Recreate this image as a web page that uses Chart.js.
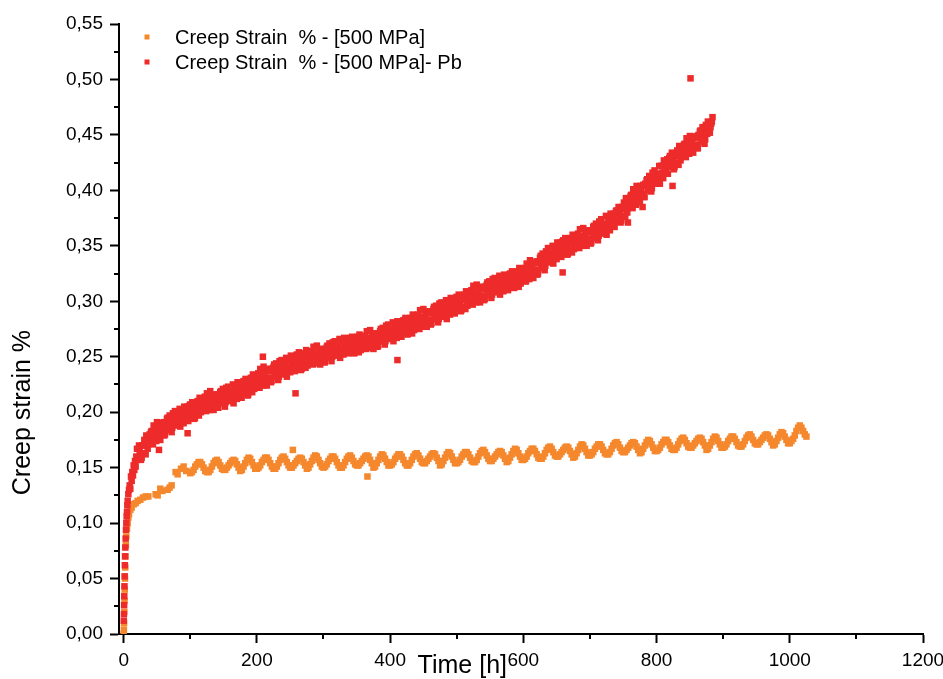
<!DOCTYPE html>
<html>
<head>
<meta charset="utf-8">
<script src="https://cdn.jsdelivr.net/npm/chart.js@4/dist/chart.umd.min.js"></script>
<style>
html,body{margin:0;padding:0;background:#fff;}
#wrap{width:943px;height:679px;position:relative;}
</style>
</head>
<body>
<div id="wrap"><canvas id="c" width="943" height="679"></canvas></div>
<script>
// ---------- labels ----------
const seriesLabels = ['Creep Strain  % - [500 MPa]', 'Creep Strain  % - [500 MPa]- Pb'];
const xTitle = 'Time [h]';
const yTitle = 'Creep strain %';

// ---------- ticks ----------
const xTicks = [0, 200, 400, 600, 800, 1000, 1200];
const xMinorTicks = [100, 300, 500, 700, 900, 1100];
const yTicks = [0, 0.05, 0.10, 0.15, 0.20, 0.25, 0.30, 0.35, 0.40, 0.45, 0.50, 0.55];
const yMinorTicks = [0.025, 0.075, 0.125, 0.175, 0.225, 0.275, 0.325, 0.375, 0.425, 0.475, 0.525];

// ---------- series 1 : 500 MPa (orange) ----------
const orangeEarlyTime = [0,0.3,0.6,1,1.3,1.6,2,2.4,2.8,3.3,4,5,6,7,8,10,12,15,18,21,25,29,33,37,48,51,55,58,66,69,72,78,81,86,90,94];
const orangeEarlyStrain = [0.000,0.004,0.010,0.020,0.030,0.040,0.050,0.060,0.070,0.080,0.088,0.095,0.100,0.105,0.108,0.112,0.114,0.117,0.118,0.120,0.121,0.123,0.124,0.124,0.126,0.125,0.131,0.129,0.130,0.132,0.134,0.146,0.144,0.149,0.151,0.147];
const orangeStart = 100, orangeStep = 2.5; // logging interval (h)
const orangeStrain = [
0.145,0.146,0.148,0.151,0.153,0.155,0.155,0.153,0.150,0.147,
0.146,0.146,0.148,0.151,0.154,0.156,0.157,0.155,0.152,0.149,
0.148,0.148,0.150,0.152,0.154,0.156,0.157,0.156,0.153,0.150,
0.147,0.148,0.151,0.154,0.157,0.159,0.158,0.155,0.152,0.149,
0.149,0.150,0.152,0.155,0.157,0.159,0.159,0.157,0.154,0.151,
0.149,0.149,0.151,0.154,0.157,0.159,0.160,0.158,0.155,0.152,
0.150,0.150,0.152,0.154,0.156,0.158,0.159,0.158,0.155,0.152,
0.149,0.150,0.153,0.156,0.159,0.161,0.160,0.157,0.154,0.151,
0.150,0.151,0.153,0.156,0.158,0.160,0.160,0.158,0.155,0.152,
0.150,0.150,0.152,0.155,0.158,0.160,0.161,0.159,0.156,0.153,
0.152,0.152,0.154,0.156,0.158,0.160,0.161,0.160,0.157,0.154,
0.150,0.151,0.154,0.157,0.160,0.162,0.161,0.158,0.155,0.152,
0.152,0.153,0.155,0.158,0.160,0.162,0.162,0.160,0.157,0.154,
0.152,0.152,0.154,0.157,0.160,0.162,0.163,0.161,0.158,0.155,
0.154,0.154,0.156,0.158,0.160,0.162,0.163,0.162,0.159,0.156,
0.152,0.153,0.156,0.159,0.162,0.164,0.163,0.160,0.157,0.154,
0.154,0.155,0.157,0.160,0.162,0.164,0.164,0.162,0.159,0.156,
0.155,0.155,0.157,0.160,0.163,0.165,0.166,0.164,0.161,0.158,
0.156,0.156,0.158,0.160,0.162,0.164,0.165,0.164,0.161,0.158,
0.155,0.156,0.159,0.162,0.165,0.167,0.166,0.163,0.160,0.157,
0.157,0.158,0.160,0.163,0.165,0.167,0.167,0.165,0.162,0.159,
0.158,0.158,0.160,0.163,0.166,0.168,0.169,0.167,0.164,0.161,
0.160,0.160,0.162,0.164,0.166,0.168,0.169,0.168,0.165,0.162,
0.159,0.160,0.163,0.166,0.169,0.171,0.170,0.167,0.164,0.161,
0.161,0.162,0.164,0.167,0.169,0.171,0.171,0.169,0.166,0.163,
0.162,0.162,0.164,0.167,0.170,0.172,0.173,0.171,0.168,0.165,
0.164,0.164,0.166,0.168,0.170,0.172,0.173,0.172,0.169,0.166,
0.163,0.164,0.167,0.170,0.173,0.175,0.174,0.171,0.168,0.165,
0.165,0.166,0.168,0.171,0.173,0.175,0.175,0.173,0.170,0.167,
0.166,0.166,0.168,0.171,0.174,0.176,0.177,0.175,0.172,0.169,
0.168,0.168,0.170,0.172,0.174,0.176,0.177,0.176,0.173,0.170,
0.166,0.167,0.170,0.173,0.176,0.178,0.177,0.174,0.171,0.168,
0.168,0.169,0.171,0.174,0.176,0.178,0.178,0.176,0.173,0.170,
0.169,0.169,0.171,0.174,0.177,0.179,0.180,0.178,0.175,0.172,
0.171,0.171,0.173,0.175,0.177,0.179,0.180,0.179,0.176,0.173,
0.170,0.171,0.174,0.177,0.180,0.182,0.181,0.178,0.175,0.172,
0.172,0.174,0.176,0.179,0.183,0.186,0.188,0.186,0.183,0.180,0.178
];
const orangeOutlierTime = [254, 366];
const orangeOutlierStrain = [0.166, 0.142];

// ---------- series 2 : 500 MPa - Pb (red) ----------
const redEarlyTime = [0.2,0.4,0.7,0.9,1.2,1.5,1.8,2.1,2.5,3,3.5,4,4.5,5,5.5,6,7,8,9,10,11,12,13,14,15,16,17,18,19];
const redEarlyStrain = [0.012,0.018,0.026,0.034,0.043,0.052,0.062,0.070,0.078,0.086,0.094,0.100,0.106,0.110,0.116,0.120,0.126,0.130,0.134,0.131,0.142,0.138,0.146,0.143,0.152,0.148,0.156,0.151,0.160];
const redStep = 2;            // logging interval (h)
const redEvenStart = 20;      // readings at 20, 22, 24 ... h
const redEvenStrain = [
0.167,0.159,0.165,0.157,0.170,0.163,0.170,0.179,0.167,0.175,
0.174,0.183,0.171,0.182,0.176,0.191,0.182,0.178,0.190,0.183,
0.191,0.180,0.189,0.195,0.185,0.193,0.182,0.199,0.191,0.196,
0.188,0.197,0.203,0.193,0.201,0.190,0.199,0.194,0.205,0.198,
0.207,0.198,0.203,0.194,0.207,0.199,0.204,0.213,0.200,0.207,
0.205,0.214,0.201,0.212,0.205,0.219,0.209,0.205,0.216,0.209,
0.216,0.204,0.214,0.219,0.209,0.216,0.205,0.222,0.213,0.219,
0.210,0.219,0.225,0.215,0.223,0.212,0.220,0.216,0.226,0.220,
0.228,0.219,0.224,0.215,0.228,0.220,0.225,0.234,0.221,0.228,
0.226,0.235,0.222,0.233,0.227,0.241,0.231,0.227,0.239,0.231,
0.239,0.228,0.237,0.243,0.232,0.240,0.229,0.246,0.237,0.243,
0.234,0.243,0.249,0.239,0.247,0.236,0.244,0.240,0.250,0.244,
0.252,0.242,0.248,0.238,0.251,0.242,0.247,0.256,0.242,0.250,
0.247,0.255,0.243,0.253,0.247,0.260,0.250,0.246,0.257,0.250,
0.257,0.245,0.255,0.260,0.250,0.257,0.246,0.263,0.254,0.260,
0.251,0.259,0.266,0.255,0.263,0.252,0.260,0.255,0.265,0.259,
0.267,0.257,0.263,0.253,0.265,0.257,0.262,0.270,0.256,0.264,
0.261,0.269,0.257,0.267,0.261,0.274,0.264,0.260,0.271,0.264,
0.271,0.260,0.269,0.275,0.264,0.272,0.261,0.278,0.269,0.275,
0.266,0.274,0.281,0.270,0.279,0.267,0.275,0.271,0.281,0.275,
0.283,0.274,0.279,0.270,0.282,0.274,0.279,0.288,0.274,0.281,
0.279,0.288,0.275,0.286,0.279,0.293,0.284,0.279,0.291,0.283,
0.291,0.280,0.289,0.295,0.284,0.292,0.281,0.298,0.289,0.295,
0.286,0.295,0.301,0.291,0.299,0.288,0.296,0.292,0.302,0.296,
0.304,0.295,0.300,0.291,0.303,0.295,0.301,0.309,0.296,0.303,
0.301,0.310,0.297,0.308,0.301,0.315,0.306,0.301,0.313,0.305,
0.313,0.302,0.311,0.317,0.306,0.314,0.303,0.320,0.311,0.317,
0.308,0.316,0.323,0.312,0.321,0.309,0.317,0.313,0.323,0.317,
0.325,0.316,0.321,0.312,0.324,0.316,0.321,0.330,0.316,0.324,
0.321,0.330,0.318,0.329,0.323,0.337,0.327,0.323,0.335,0.328,
0.336,0.325,0.335,0.341,0.331,0.339,0.328,0.345,0.337,0.343,
0.335,0.344,0.350,0.340,0.349,0.338,0.346,0.342,0.353,0.346,
0.355,0.346,0.351,0.342,0.354,0.346,0.352,0.360,0.347,0.354,
0.352,0.361,0.348,0.359,0.352,0.366,0.357,0.352,0.364,0.356,
0.364,0.353,0.362,0.368,0.358,0.366,0.355,0.372,0.364,0.369,
0.361,0.370,0.377,0.366,0.375,0.364,0.373,0.369,0.379,0.373,
0.382,0.373,0.380,0.371,0.385,0.377,0.383,0.393,0.380,0.389,
0.387,0.396,0.384,0.396,0.390,0.404,0.395,0.391,0.404,0.397,
0.405,0.394,0.404,0.410,0.400,0.409,0.399,0.416,0.408,0.414,
0.406,0.415,0.422,0.413,0.422,0.411,0.420,0.416,0.428,0.422,
0.431,0.422,0.428,0.419,0.432,0.425,0.431,0.440,0.427,0.435,
0.433,0.442,0.430,0.441,0.435,0.449,0.440,0.436,0.448,0.441,
0.449,0.438,0.448,0.454,0.444,0.452,0.442,0.459,0.451,0.457,
0.452,0.460,0.466
];
const redOddStart = 21;       // readings at 21, 23, 25 ... h
const redOddStrain = [
0.157,0.170,0.163,0.159,0.170,0.175,0.162,0.174,0.171,0.180,
0.182,0.172,0.188,0.178,0.174,0.183,0.187,0.175,0.188,0.182,
0.179,0.191,0.194,0.184,0.197,0.188,0.186,0.196,0.201,0.192,
0.196,0.190,0.187,0.202,0.196,0.205,0.194,0.202,0.192,0.206,
0.196,0.209,0.201,0.195,0.206,0.210,0.197,0.207,0.203,0.212,
0.212,0.202,0.217,0.207,0.202,0.211,0.214,0.202,0.214,0.208,
0.204,0.216,0.218,0.208,0.221,0.211,0.209,0.219,0.223,0.214,
0.218,0.212,0.208,0.224,0.217,0.227,0.215,0.223,0.213,0.227,
0.217,0.230,0.222,0.216,0.227,0.231,0.218,0.228,0.224,0.233,
0.233,0.223,0.239,0.228,0.224,0.233,0.237,0.224,0.237,0.231,
0.227,0.239,0.241,0.232,0.244,0.235,0.232,0.243,0.247,0.238,
0.242,0.236,0.232,0.248,0.241,0.251,0.239,0.247,0.237,0.251,
0.241,0.254,0.245,0.239,0.250,0.253,0.240,0.250,0.245,0.254,
0.254,0.244,0.259,0.248,0.244,0.252,0.256,0.243,0.255,0.249,
0.245,0.257,0.259,0.249,0.262,0.252,0.250,0.260,0.264,0.255,
0.259,0.252,0.249,0.264,0.257,0.267,0.255,0.262,0.253,0.266,
0.256,0.268,0.260,0.254,0.264,0.268,0.254,0.264,0.260,0.268,
0.268,0.258,0.273,0.262,0.258,0.266,0.270,0.257,0.269,0.263,
0.259,0.271,0.273,0.264,0.276,0.267,0.264,0.275,0.279,0.270,
0.274,0.268,0.264,0.279,0.273,0.282,0.271,0.278,0.268,0.282,
0.272,0.285,0.276,0.271,0.281,0.285,0.271,0.282,0.277,0.286,
0.286,0.276,0.292,0.281,0.277,0.285,0.289,0.277,0.289,0.283,
0.279,0.291,0.293,0.284,0.296,0.287,0.284,0.295,0.299,0.290,
0.294,0.288,0.284,0.300,0.293,0.303,0.291,0.299,0.289,0.303,
0.293,0.306,0.298,0.292,0.303,0.306,0.293,0.304,0.299,0.308,
0.308,0.298,0.314,0.303,0.299,0.307,0.311,0.299,0.311,0.305,
0.301,0.313,0.315,0.306,0.318,0.309,0.306,0.317,0.321,0.312,
0.316,0.310,0.306,0.321,0.315,0.324,0.313,0.320,0.310,0.324,
0.314,0.327,0.318,0.313,0.323,0.327,0.313,0.324,0.319,0.328,
0.328,0.318,0.334,0.324,0.320,0.329,0.333,0.321,0.334,0.328,
0.324,0.336,0.339,0.330,0.343,0.334,0.332,0.343,0.348,0.339,
0.343,0.337,0.334,0.349,0.343,0.353,0.342,0.349,0.340,0.354,
0.344,0.357,0.349,0.343,0.354,0.357,0.344,0.355,0.350,0.359,
0.359,0.349,0.365,0.354,0.350,0.358,0.362,0.350,0.362,0.356,
0.352,0.364,0.367,0.357,0.370,0.361,0.359,0.369,0.374,0.365,
0.369,0.363,0.360,0.376,0.370,0.379,0.368,0.376,0.367,0.381,
0.372,0.385,0.378,0.373,0.384,0.389,0.376,0.388,0.384,0.393,
0.395,0.385,0.401,0.391,0.387,0.397,0.401,0.389,0.402,0.396,
0.394,0.406,0.409,0.400,0.413,0.404,0.402,0.413,0.418,0.409,
0.415,0.409,0.406,0.422,0.416,0.427,0.416,0.424,0.415,0.429,
0.421,0.434,0.426,0.421,0.432,0.436,0.423,0.434,0.430,0.439,
0.441,0.431,0.447,0.437,0.433,0.442,0.446,0.434,0.447,0.441,
0.438,0.450,0.453,0.444,0.457,0.448,0.446,0.457,0.462,0.453,
0.457,0.462
];
const redOutlierTime = [53, 96, 209, 258, 411, 659, 757, 779, 824, 851];
const redOutlierStrain = [0.166, 0.181, 0.250, 0.217, 0.247, 0.326, 0.371, 0.385, 0.404, 0.501];

// ---------- build point lists ----------
function pairs(times, vals) { return vals.map((v, i) => ({ x: times[i], y: v })); }
function logged(start, step, vals) { return vals.map((v, i) => ({ x: start + i * step, y: v })); }

const orangeData = [].concat(
  pairs(orangeEarlyTime, orangeEarlyStrain),
  logged(orangeStart, orangeStep, orangeStrain),
  pairs(orangeOutlierTime, orangeOutlierStrain)
);
const redData = [].concat(
  pairs(redEarlyTime, redEarlyStrain),
  logged(redEvenStart, redStep, redEvenStrain),
  logged(redOddStart, redStep, redOddStrain),
  pairs(redOutlierTime, redOutlierStrain)
);

const ORANGE = '#F5872D';
const RED = '#EE2B2B';
const FONT = "'Liberation Sans', Arial, Helvetica, sans-serif";
const MARK = 4.6;

const decor = {
  id: 'decor',
  afterDraw(chart) {
    const ctx = chart.ctx;
    const xs = chart.scales.x, ys = chart.scales.y;
    const area = chart.chartArea;
    ctx.save();
    // minor ticks
    ctx.strokeStyle = '#000';
    ctx.lineWidth = 2;
    ctx.beginPath();
    xMinorTicks.forEach(v => {
      const px = Math.round(xs.getPixelForValue(v));
      ctx.moveTo(px, area.bottom);
      ctx.lineTo(px, area.bottom + 5);
    });
    yMinorTicks.forEach(v => {
      const py = Math.round(ys.getPixelForValue(v));
      ctx.moveTo(area.left - 5, py);
      ctx.lineTo(area.left, py);
    });
    ctx.stroke();

    // axis titles
    ctx.fillStyle = '#000';
    ctx.font = '25px ' + FONT;
    ctx.textAlign = 'center';
    ctx.textBaseline = 'alphabetic';
    ctx.fillText(xTitle, area.left + 0.427 * (area.right - area.left), 673);
    ctx.save();
    ctx.translate(29.5, area.top + 0.637 * (area.bottom - area.top));
    ctx.rotate(-Math.PI / 2);
    ctx.font = '25px ' + FONT;
    ctx.fillText(yTitle, 0, 0);
    ctx.restore();

    // legend
    ctx.font = '20px ' + FONT;
    ctx.textAlign = 'left';
    ctx.textBaseline = 'middle';
    chart.data.datasets.forEach((ds, i) => {
      const cy = 37 + i * 25;
      ctx.fillStyle = ds.backgroundColor;
      ctx.fillRect(144.5, cy - 2.5, 5, 5);
      ctx.fillStyle = '#000';
      ctx.fillText(ds.label, 175, cy + 1);
    });
    ctx.restore();
  }
};

new Chart(document.getElementById('c'), {
  type: 'scatter',
  data: {
    datasets: [
      { label: seriesLabels[0], data: orangeData, backgroundColor: ORANGE, borderColor: ORANGE,
        pointStyle: 'rect', pointRadius: MARK, borderWidth: 0, order: 1 },
      { label: seriesLabels[1], data: redData, backgroundColor: RED, borderColor: RED,
        pointStyle: 'rect', pointRadius: MARK, borderWidth: 0, order: 0 }
    ]
  },
  options: {
    responsive: false,
    animation: false,
    devicePixelRatio: 1,
    events: [],
    layout: { padding: { top: 24, right: 20, left: 0, bottom: 0 } },
    plugins: { legend: { display: false }, tooltip: { enabled: false }, title: { display: false } },
    scales: {
      x: {
        type: 'linear', position: 'bottom', min: -7, max: 1200,
        afterBuildTicks: s => { s.ticks = xTicks.map(v => ({ value: v })); },
        afterFit: s => { s.height = 45; s.paddingLeft = 0; s.paddingRight = 0; },
        grid: { drawOnChartArea: false, drawTicks: true, tickLength: 9, tickWidth: 2, tickColor: '#000' },
        border: { display: true, color: '#000', width: 2 },
        ticks: { font: { family: FONT, size: 19 }, color: '#000', padding: 6, maxRotation: 0, autoSkip: false,
                 callback: v => String(v) }
      },
      y: {
        type: 'linear', position: 'left', min: 0, max: 0.55,
        afterBuildTicks: s => { s.ticks = yTicks.map(v => ({ value: v })); },
        afterFit: s => { s.width = 119; s.paddingTop = 0; s.paddingBottom = 0; },
        grid: { drawOnChartArea: false, drawTicks: true, tickLength: 9, tickWidth: 2, tickColor: '#000' },
        border: { display: true, color: '#000', width: 2 },
        ticks: { font: { family: FONT, size: 19 }, color: '#000', padding: 7, autoSkip: false,
                 callback: v => Number(v).toFixed(2).replace('.', ',') }
      }
    }
  },
  plugins: [decor]
});
</script>
</body>
</html>
